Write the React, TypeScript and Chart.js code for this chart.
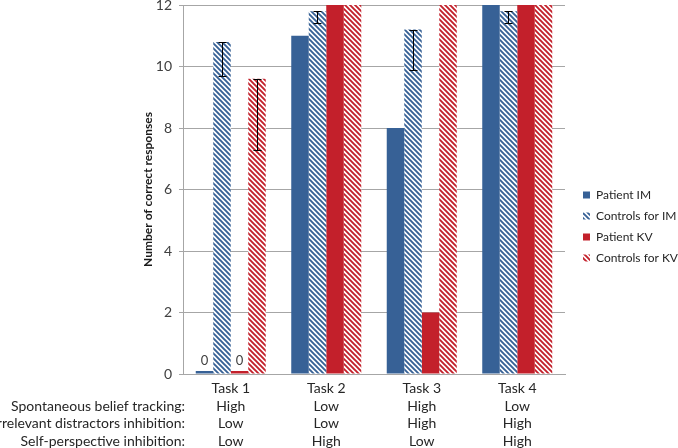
import React, { useEffect, useRef } from 'react';
import { Chart, registerables } from 'chart.js';

Chart.register(...registerables);

// ---- data ----
const taskNames = ['Task 1', 'Task 2', 'Task 3', 'Task 4'];
const beliefTracking = ['High', 'Low', 'High', 'Low'];
const distractorInhibition = ['Low', 'Low', 'High', 'High'];
const selfPerspectiveInhibition = ['Low', 'High', 'Low', 'High'];
const rowTitles = [
  'Spontaneous belief tracking:',
  'Irrelevant distractors inhibition:',
  'Self-perspective inhibition:',
];
const seriesNames = ['Patient IM', 'Controls for IM', 'Patient KV', 'Controls for KV'];
const patientIM = [0, 11, 8, 12];
const controlsIM = [10.8, 11.8, 11.2, 11.8];
const controlsIMErr = [1.1, 0.4, 1.3, 0.4];
const patientKV = [0, 12, 2, 12];
const controlsKV = [9.6, 12, 12, 12];
const controlsKVErr = [2.3, 0, 0, 0];
const yMin = 0;
const yMax = 12;
const yStep = 2;

const BLUE = '#376196';
const RED = '#c3202b';
const FONT = 'Lato';
const LABEL_SIZE = 14;
const LABEL_LH = 1.25;

function hatch(color: string) {
  const s = 5;
  const c = document.createElement('canvas');
  c.width = s;
  c.height = s;
  const g = c.getContext('2d')!;
  g.fillStyle = '#ffffff';
  g.fillRect(0, 0, s, s);
  g.strokeStyle = color;
  g.lineWidth = 1.9;
  g.beginPath();
  g.moveTo(-1, -1);
  g.lineTo(s + 1, s + 1);
  g.moveTo(-s - 1, -1);
  g.lineTo(1, s + 1);
  g.moveTo(s - 1, -1);
  g.lineTo(2 * s + 1, s + 1);
  g.stroke();
  return g.createPattern(c, 'repeat')!;
}

export default function App() {
  const ref = useRef<HTMLCanvasElement | null>(null);

  useEffect(() => {
    const canvas = ref.current!;
    const errors: (number[] | null)[] = [null, controlsIMErr, null, controlsKVErr];

    const annot = {
      id: 'annot',
      afterDatasetsDraw(chart: any) {
        const ctx = chart.ctx;
        const ys = chart.scales.y;
        ctx.save();
        ctx.strokeStyle = '#000000';
        ctx.lineWidth = 1;
        chart.data.datasets.forEach((ds: any, di: number) => {
          const e = errors[di];
          if (!e) return;
          const meta = chart.getDatasetMeta(di);
          meta.data.forEach((bar: any, i: number) => {
            if (!e[i]) return;
            const v = ds.data[i];
            const x = Math.round(bar.x) + 0.5;
            const y1 = Math.round(ys.getPixelForValue(v)) + 0.5;
            const y2 = Math.round(ys.getPixelForValue(v - e[i])) + 0.5;
            ctx.beginPath();
            ctx.moveTo(x, y1);
            ctx.lineTo(x, y2);
            ctx.moveTo(x - 4, y1);
            ctx.lineTo(x + 4, y1);
            ctx.moveTo(x - 4, y2);
            ctx.lineTo(x + 4, y2);
            ctx.stroke();
          });
        });
        // zero value labels
        ctx.fillStyle = '#404040';
        ctx.font = `13px ${FONT}`;
        ctx.textAlign = 'center';
        ctx.textBaseline = 'middle';
        [0, 2].forEach((di) => {
          const meta = chart.getDatasetMeta(di);
          const ds = chart.data.datasets[di];
          meta.data.forEach((bar: any, i: number) => {
            if (ds.data[i] === 0) {
              ctx.fillText('0', bar.x, ys.getPixelForValue(0) - 13);
            }
          });
        });
        ctx.restore();
      },
      afterDraw(chart: any) {
        const ctx = chart.ctx;
        const xs = chart.scales.x;
        const lh = LABEL_SIZE * LABEL_LH;
        ctx.save();
        ctx.fillStyle = '#262626';
        ctx.font = `${LABEL_SIZE}px ${FONT}`;
        ctx.textAlign = 'right';
        ctx.textBaseline = 'middle';
        rowTitles.forEach((t, k) => {
          ctx.fillText(t, 185, xs.top + 6 + lh * (k + 1.5));
        });
        ctx.restore();
      },
    };

    const legendFix = {
      id: 'legendFix',
      beforeLayout(chart: any) {
        const lg = chart.legend;
        if (lg && !lg.__patched) {
          const f = lg.fit;
          lg.fit = function () {
            f.call(this);
            this.width = 113;
          };
          lg.__patched = true;
        }
      },
      afterLayout(chart: any) {
        const lg = chart.legend;
        if (lg) {
          lg.left += 9;
          lg.right += 9;
        }
      },
    };

    const common = { categoryPercentage: 0.733, barPercentage: 1, borderWidth: 0 };

    const chart = new Chart(canvas, {
      type: 'bar',
      data: {
        labels: taskNames.map((t, i) => [t, beliefTracking[i], distractorInhibition[i], selfPerspectiveInhibition[i]]),
        datasets: [
          { label: seriesNames[0], data: patientIM, backgroundColor: BLUE, minBarLength: 3, ...common },
          { label: seriesNames[1], data: controlsIM, backgroundColor: hatch(BLUE), ...common },
          { label: seriesNames[2], data: patientKV, backgroundColor: RED, minBarLength: 3, ...common },
          { label: seriesNames[3], data: controlsKV, backgroundColor: hatch(RED), ...common },
        ],
      },
      options: {
        responsive: false,
        animation: false,
        devicePixelRatio: 1,
        layout: { padding: { top: 5, left: 0, right: 0, bottom: 0 } },
        plugins: {
          tooltip: { enabled: false },
          legend: {
            position: 'right',
            align: 'center',
            labels: {
              boxWidth: 7,
              boxHeight: 7,
              padding: 9,
              color: '#262626',
              font: { family: FONT, size: 12 },
            },
          },
        },
        scales: {
          x: {
            ticks: {
              color: '#262626',
              font: { family: FONT, size: LABEL_SIZE, lineHeight: LABEL_LH },
              padding: 6,
              maxRotation: 0,
              autoSkip: false,
            },
            grid: { display: false, drawTicks: false },
            border: { display: true, color: '#a6a6a6' },
            afterFit(s: any) {
              s.height = 74;
              s.paddingLeft = 0;
              s.paddingRight = 0;
            },
          },
          y: {
            min: yMin,
            max: yMax,
            ticks: {
              stepSize: yStep,
              color: '#404040',
              font: { family: FONT, size: 14 },
              padding: 7,
            },
            grid: { color: '#a6a6a6', tickLength: 4 },
            border: { display: true, color: '#a6a6a6' },
            title: {
              display: true,
              text: 'Number of correct responses',
              color: '#1a1a1a',
              font: { family: FONT, size: 12, weight: 'bold' },
              padding: { top: 141, bottom: 0 },
            },
            afterFit(s: any) {
              s.width = 183;
              s.paddingTop = 0;
              s.paddingBottom = 0;
            },
          },
        },
      },
      plugins: [annot, legendFix],
    } as any);

    return () => chart.destroy();
  }, []);

  return (
    <div style={{ position: 'fixed', left: 0, top: 0, width: 678, height: 448, background: '#fff' }}>
      <canvas ref={ref} width={678} height={448} style={{ display: 'block' }} />
    </div>
  );
}
